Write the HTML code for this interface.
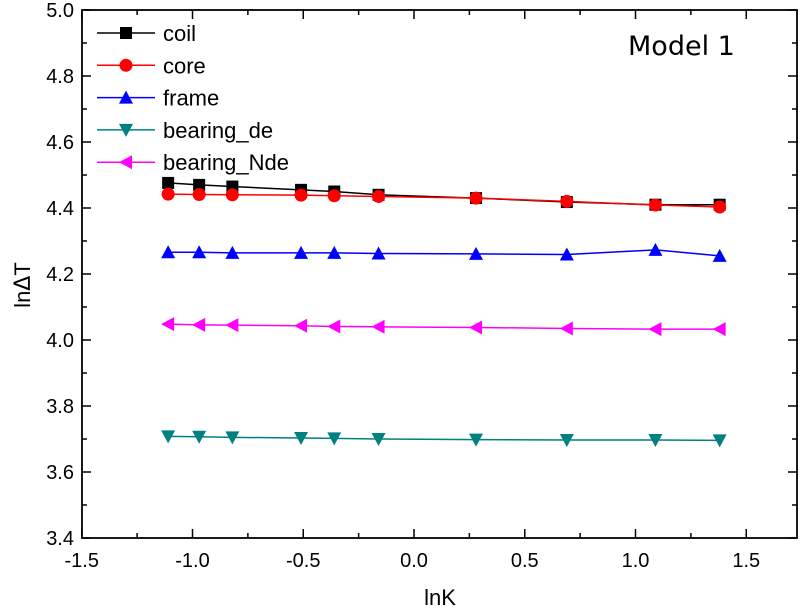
<!DOCTYPE html>
<html><head><meta charset="utf-8"><style>
html,body{margin:0;padding:0;background:#fff;}
svg{display:block;font-family:"Liberation Sans",Arial,sans-serif;}
</style></head><body>
<svg width="800" height="609" viewBox="0 0 800 609" xmlns="http://www.w3.org/2000/svg">
<rect width="800" height="609" fill="#fff"/>
<g id="ticks" stroke="#000" stroke-width="1.5"></g>
<rect x="82" y="10" width="715" height="528" fill="none" stroke="#000" stroke-width="1.8"/>
<g id="labels" font-size="20" fill="#000"></g>
<g id="series"></g>
<text x="440" y="605" font-size="22" text-anchor="middle">lnK</text>
<text transform="translate(30,285) rotate(-90)" font-size="22" text-anchor="middle">ln<tspan font-family="DejaVu Sans">Δ</tspan>T</text>
<text x="628" y="55" font-size="27" font-family="DejaVu Sans, sans-serif">Model 1</text>
<g id="legend" font-size="22"></g>
</svg>
<script>
var NS="http://www.w3.org/2000/svg";
function X(v){return 414+221.5*v;}
function Y(v){return 538-(v-3.4)*330;}
function el(t,a,p){var e=document.createElementNS(NS,t);for(var k in a)e.setAttribute(k,a[k]);p.appendChild(e);return e;}
var tk=document.getElementById('ticks'),lb=document.getElementById('labels');
for(var i=0;i<=14;i++){var v=-1.5+i*0.25,x=X(v),L=(i%2==0)?9:5;
 el('line',{x1:x,y1:538,x2:x,y2:538-L},tk);el('line',{x1:x,y1:10,x2:x,y2:10+L},tk);
 if(i%2==0){var t=el('text',{x:x,y:567,'text-anchor':'middle'},lb);t.textContent=v.toFixed(1);}}
for(var i=0;i<=16;i++){var v=3.4+i*0.1,y=Y(v),L=(i%2==0)?9:5;
 el('line',{x1:82,y1:y,x2:82+L,y2:y},tk);el('line',{x1:797,y1:y,x2:797-L,y2:y},tk);
 if(i%2==0){var t=el('text',{x:74,y:y+7,'text-anchor':'end'},lb);t.textContent=v.toFixed(1);}}
var xs=[-1.11,-0.97,-0.82,-0.51,-0.36,-0.16,0.28,0.69,1.09,1.38];
var S=[
 {n:'coil',c:'#000',m:'sq',d:[4.476,4.47,4.465,4.455,4.45,4.44,4.43,4.418,4.41,4.41]},
 {n:'core',c:'#f00',m:'ci',d:[4.442,4.441,4.44,4.439,4.437,4.435,4.43,4.42,4.409,4.403]},
 {n:'frame',c:'#00f',m:'up',d:[4.266,4.266,4.264,4.264,4.264,4.262,4.261,4.259,4.273,4.255]},
 {n:'bearing_de',c:'#008080',m:'dn',d:[3.708,3.707,3.705,3.703,3.702,3.7,3.698,3.697,3.697,3.696]},
 {n:'bearing_Nde',c:'#f0f',m:'lt',d:[4.048,4.046,4.045,4.043,4.041,4.04,4.038,4.035,4.033,4.033]}];
var g=document.getElementById('series'),lg=document.getElementById('legend');
function mk(m,x,y,c,p){
 if(m=='sq')el('rect',{x:x-6,y:y-6,width:12,height:12,fill:c},p);
 else if(m=='ci')el('circle',{cx:x,cy:y,r:6.5,fill:c},p);
 else if(m=='up')el('polygon',{points:(x-7)+','+(y+6)+' '+(x+7)+','+(y+6)+' '+x+','+(y-7),fill:c},p);
 else if(m=='dn')el('polygon',{points:(x-7)+','+(y-6)+' '+(x+7)+','+(y-6)+' '+x+','+(y+7),fill:c},p);
 else el('polygon',{points:(x+6)+','+(y-7)+' '+(x+6)+','+(y+7)+' '+(x-7)+','+y,fill:c},p);}
S.forEach(function(s,k){
 var pts=xs.map(function(x,i){return X(x)+','+Y(s.d[i]);}).join(' ');
 el('polyline',{points:pts,fill:'none',stroke:s.c,'stroke-width':1.5},g);
 xs.forEach(function(x,i){mk(s.m,X(x),Y(s.d[i]),s.c,g);});
 var ly=33+k*32.3;
 el('line',{x1:97,y1:ly,x2:155,y2:ly,stroke:s.c,'stroke-width':1.5},lg);
 mk(s.m,126,ly,s.c,lg);
 var t=el('text',{x:163,y:ly+8},lg);t.textContent=s.n;});
</script>
</body></html>
